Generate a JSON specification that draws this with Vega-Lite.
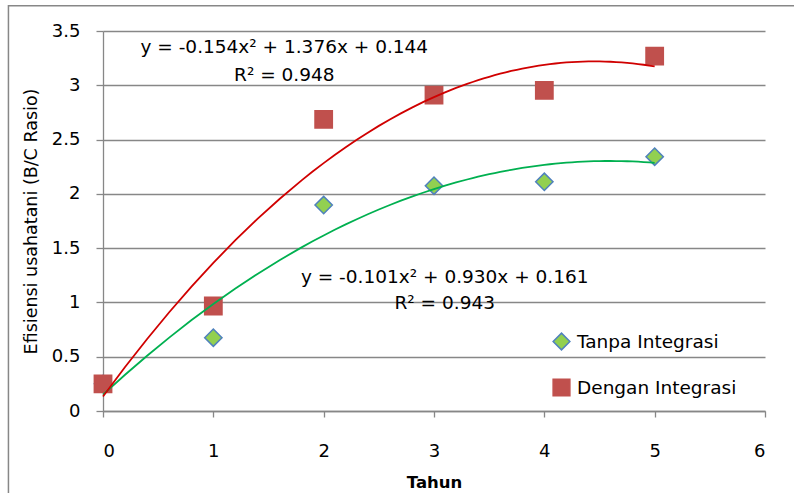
{
  "$schema": "https://vega.github.io/schema/vega-lite/v6.json",
  "width": 662,
  "height": 380,
  "autosize": {"type": "none"},
  "padding": {"left": 103, "top": 31, "right": 29, "bottom": 82},
  "background": "white",
  "config": {
    "font": "DejaVu Sans",
    "view": {"stroke": null},
    "axis": {
      "domainColor": "#878787",
      "domainWidth": 1.3,
      "tickColor": "#878787",
      "tickWidth": 1.3,
      "gridColor": "#878787",
      "gridWidth": 1.3,
      "gridOpacity": 1,
      "labelColor": "#000000",
      "labelFontSize": 18,
      "labelFont": "DejaVu Sans",
      "titleColor": "#000000",
      "titleFont": "DejaVu Sans"
    },
    "legend": {
      "padding": 0,
      "labelFontSize": 18.5,
      "labelColor": "#000000",
      "labelFont": "DejaVu Sans"
    }
  },
  "datasets": {
    "points": [
      {"tahun": 0, "efisiensi": 0.25, "series": "Tanpa Integrasi"},
      {"tahun": 1, "efisiensi": 0.675, "series": "Tanpa Integrasi"},
      {"tahun": 2, "efisiensi": 1.897, "series": "Tanpa Integrasi"},
      {"tahun": 3, "efisiensi": 2.075, "series": "Tanpa Integrasi"},
      {"tahun": 4, "efisiensi": 2.111, "series": "Tanpa Integrasi"},
      {"tahun": 5, "efisiensi": 2.342, "series": "Tanpa Integrasi"},
      {"tahun": 0, "efisiensi": 0.25, "series": "Dengan Integrasi"},
      {"tahun": 1, "efisiensi": 0.967, "series": "Dengan Integrasi"},
      {"tahun": 2, "efisiensi": 2.686, "series": "Dengan Integrasi"},
      {"tahun": 3, "efisiensi": 2.91, "series": "Dengan Integrasi"},
      {"tahun": 4, "efisiensi": 2.953, "series": "Dengan Integrasi"},
      {"tahun": 5, "efisiensi": 3.269, "series": "Dengan Integrasi"}
    ],
    "labels": [
      {"tahun": 1.643, "efisiensi": 3.353, "label": "y = -0.154x² + 1.376x + 0.144"},
      {"tahun": 1.643, "efisiensi": 3.095, "label": "R² = 0.948"},
      {"tahun": 3.097, "efisiensi": 1.234, "label": "y = -0.101x² + 0.930x + 0.161"},
      {"tahun": 3.097, "efisiensi": 0.995, "label": "R² = 0.943"}
    ]
  },
  "layer": [
    {
      "data": {"values": [{}]},
      "mark": {"type": "rect", "fill": null, "stroke": "#878787", "strokeWidth": 1.5, "clip": false},
      "encoding": {
        "x": {"datum": -0.857, "type": "quantitative", "scale": {"domain": [0, 6], "nice": false}},
        "x2": {"datum": 7.5},
        "y": {"datum": 3.732, "type": "quantitative", "scale": {"domain": [0, 3.5], "nice": false}},
        "y2": {"datum": -1.5}
      }
    },
    {
      "data": {"name": "points"},
      "mark": {"type": "point", "filled": true, "size": 300, "strokeWidth": 1.5, "opacity": 1},
      "encoding": {
        "x": {
          "field": "tahun", "type": "quantitative",
          "scale": {"domain": [0, 6], "nice": false},
          "axis": {
            "title": "Tahun", "titleFontSize": 16.5, "titleFontWeight": "bold", "titlePadding": 14,
            "values": [0, 1, 2, 3, 4, 5, 6], "format": "d", "grid": false,
            "tickSize": 6, "labelPadding": 25
          }
        },
        "y": {
          "field": "efisiensi", "type": "quantitative",
          "scale": {"domain": [0, 3.5], "nice": false},
          "axis": {
            "title": "Efisiensi usahatani  (B/C Rasio)", "titleFontSize": 17.5, "titleFontWeight": "normal", "titlePadding": 11,
            "values": [0, 0.5, 1, 1.5, 2, 2.5, 3, 3.5], "format": "~g", "grid": true,
            "tickSize": 7, "labelPadding": 16
          }
        },
        "fill": {
          "field": "series", "type": "nominal",
          "scale": {"domain": ["Tanpa Integrasi", "Dengan Integrasi"], "range": ["#92D050", "#C0504D"]},
          "legend": {
            "title": null, "orient": "none", "legendX": 449, "legendY": 301,
            "symbolSize": 280, "symbolStrokeWidth": 1.5, "rowPadding": 23, "labelOffset": 6
          }
        },
        "stroke": {
          "field": "series", "type": "nominal",
          "scale": {"domain": ["Tanpa Integrasi", "Dengan Integrasi"], "range": ["#4F81BD", "#C0504D"]},
          "legend": {
            "title": null, "orient": "none", "legendX": 449, "legendY": 301,
            "symbolSize": 280, "symbolStrokeWidth": 1.5, "rowPadding": 23, "labelOffset": 6
          }
        },
        "shape": {
          "field": "series", "type": "nominal",
          "scale": {"domain": ["Tanpa Integrasi", "Dengan Integrasi"], "range": ["diamond", "square"]},
          "legend": {
            "title": null, "orient": "none", "legendX": 449, "legendY": 301,
            "symbolSize": 280, "symbolStrokeWidth": 1.5, "rowPadding": 23, "labelOffset": 6
          }
        }
      }
    },
    {
      "data": {"name": "points"},
      "transform": [
        {"regression": "efisiensi", "on": "tahun", "groupby": ["series"], "method": "poly", "order": 2, "extent": [0, 5]}
      ],
      "mark": {"type": "line", "strokeWidth": 1.8},
      "encoding": {
        "x": {"field": "tahun", "type": "quantitative"},
        "y": {"field": "efisiensi", "type": "quantitative"},
        "detail": {"field": "series", "type": "nominal"},
        "stroke": {
          "condition": {"test": "datum.series === 'Tanpa Integrasi'", "value": "#00B050"},
          "value": "#D00000"
        }
      }
    },
    {
      "data": {"name": "labels"},
      "mark": {"type": "text", "fontSize": 18.5, "color": "#000000", "align": "center", "baseline": "middle", "font": "DejaVu Sans"},
      "encoding": {
        "x": {"field": "tahun", "type": "quantitative"},
        "y": {"field": "efisiensi", "type": "quantitative"},
        "text": {"field": "label", "type": "nominal"}
      }
    }
  ]
}
